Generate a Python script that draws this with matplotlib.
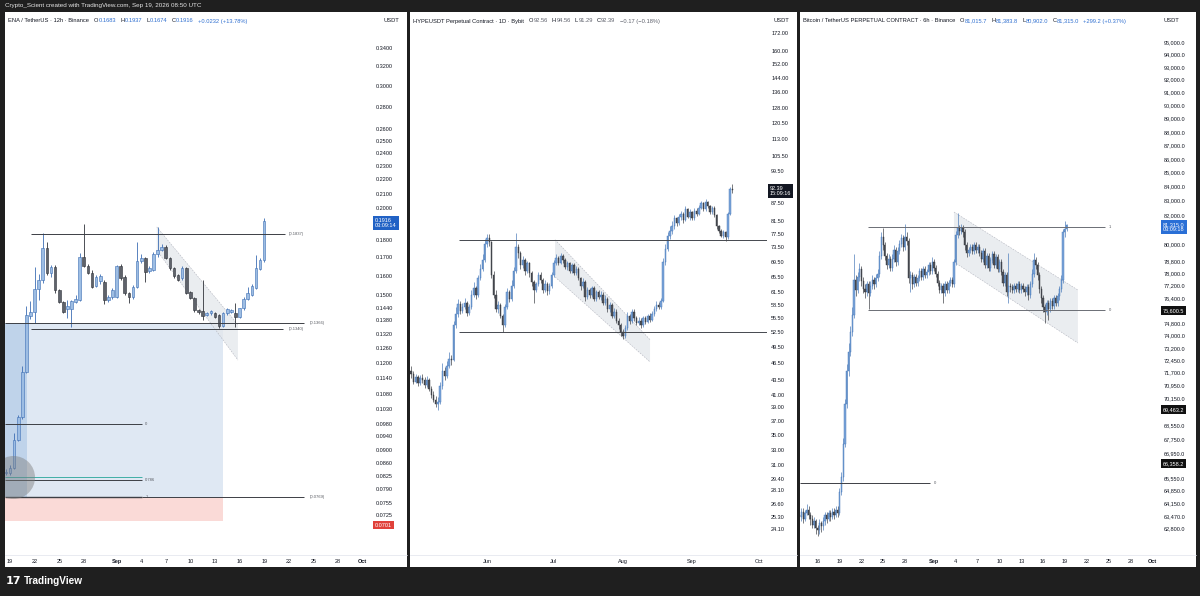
import numpy as np
import pandas as pd
import matplotlib
matplotlib.use("Agg")
import matplotlib.pyplot as plt
import matplotlib.dates as mdates
from matplotlib.patches import Rectangle, Polygon
from matplotlib.lines import Line2D
from matplotlib.ticker import NullLocator

plt.rcParams['font.family'] = ['Liberation Sans', 'DejaVu Sans']

W, H = 1200, 596
DARK = '#1f1f1f'
INK = '#131722'
HDR_BLUE = '#2f6fd0'
HDR_GREY = '#5d606b'
HDR_SIZE = 4.15

# ---------------- ENA / TetherUS, 12h candles from 2026-08-18 12:00 ----------------
ena_start = '2026-08-18 12:00'
ena_open = [0.0832, 0.0832, 0.0848, 0.0929, 0.1002, 0.1163, 0.1400, 0.1420, 0.1530, 0.1577,
            0.1751, 0.1612, 0.1648, 0.1526, 0.1468, 0.1432, 0.1432, 0.1468, 0.1476, 0.1700,
            0.1654, 0.1616, 0.1546, 0.1570, 0.1568, 0.1476, 0.1489, 0.1489, 0.1652, 0.1595,
            0.1509, 0.1489, 0.1543, 0.1681, 0.1695, 0.1627, 0.1630, 0.1719, 0.1742, 0.1761,
            0.1695, 0.1639, 0.1604, 0.1586, 0.1639, 0.1517, 0.1485, 0.1428, 0.1423, 0.1404,
            0.1412, 0.1416, 0.1404, 0.1355, 0.1412, 0.1420, 0.1412, 0.1397, 0.1436, 0.1483,
            0.1500, 0.1535, 0.1634, 0.1683]
ena_high = [0.0845, 0.0855, 0.0950, 0.1010, 0.1185, 0.1447, 0.1470, 0.1646, 0.1607, 0.1840,
            0.1790, 0.1660, 0.1660, 0.1530, 0.1470, 0.1476, 0.1476, 0.1500, 0.1723, 0.1899,
            0.1665, 0.1630, 0.1605, 0.1610, 0.1577, 0.1500, 0.1535, 0.1660, 0.1661, 0.1605,
            0.1515, 0.1550, 0.1790, 0.1720, 0.1704, 0.1650, 0.1730, 0.1882, 0.1775, 0.1770,
            0.1700, 0.1645, 0.1610, 0.1650, 0.1645, 0.1520, 0.1490, 0.1432, 0.1577, 0.1420,
            0.1430, 0.1420, 0.1410, 0.1420, 0.1440, 0.1435, 0.1462, 0.1440, 0.1490, 0.1543,
            0.1555, 0.1713, 0.1695, 0.1937]
ena_low = [0.0826, 0.0828, 0.0845, 0.0925, 0.0995, 0.1160, 0.1385, 0.1366, 0.1476, 0.1560,
           0.1604, 0.1595, 0.1509, 0.1460, 0.1412, 0.1389, 0.1350, 0.1460, 0.1470, 0.1645,
           0.1608, 0.1535, 0.1540, 0.1555, 0.1458, 0.1465, 0.1480, 0.1485, 0.1577, 0.1500,
           0.1462, 0.1480, 0.1535, 0.1670, 0.1568, 0.1615, 0.1625, 0.1704, 0.1735, 0.1690,
           0.1630, 0.1590, 0.1570, 0.1580, 0.1505, 0.1480, 0.1420, 0.1410, 0.1381, 0.1398,
           0.1405, 0.1390, 0.1345, 0.1348, 0.1405, 0.1415, 0.1351, 0.1390, 0.1430, 0.1476,
           0.1495, 0.1530, 0.1628, 0.1674]
ena_close = [0.0836, 0.0848, 0.0929, 0.1002, 0.1163, 0.1404, 0.1420, 0.1530, 0.1577, 0.1751,
             0.1612, 0.1648, 0.1526, 0.1468, 0.1420, 0.1448, 0.1472, 0.1483, 0.1700, 0.1654,
             0.1616, 0.1543, 0.1595, 0.1600, 0.1476, 0.1489, 0.1526, 0.1652, 0.1586, 0.1509,
             0.1489, 0.1543, 0.1681, 0.1695, 0.1621, 0.1639, 0.1719, 0.1742, 0.1761, 0.1695,
             0.1639, 0.1598, 0.1577, 0.1639, 0.1509, 0.1485, 0.1428, 0.1420, 0.1400, 0.1414,
             0.1423, 0.1397, 0.1355, 0.1412, 0.1431, 0.1428, 0.1394, 0.1436, 0.1483, 0.1509,
             0.1546, 0.1639, 0.1683, 0.1916]
ena_yticks = [0.34, 0.32, 0.30, 0.28, 0.26, 0.25, 0.24, 0.23, 0.22, 0.21, 0.20, 0.18, 0.17,
              0.16, 0.15, 0.144, 0.138, 0.132, 0.126, 0.12, 0.114, 0.108, 0.103, 0.098, 0.094,
              0.09, 0.086, 0.0825, 0.079, 0.0755, 0.0725]
ena_xdates = ['2026-08-19', '2026-08-22', '2026-08-25', '2026-08-28', '2026-09-01', '2026-09-04',
              '2026-09-07', '2026-09-10', '2026-09-13', '2026-09-16', '2026-09-19', '2026-09-22',
              '2026-09-25', '2026-09-28', '2026-10-01']
ena_xlabels = ['19', '22', '25', '28', 'Sep', '4', '7', '10', '13', '16', '19', '22', '25', '28', 'Oct']

# ---------------- HYPEUSDT, daily candles from 2026-04-28 ----------------
hype_start = '2026-04-28'
hype_close = [44.5, 43.2, 44.0, 43.0, 43.8, 43.5, 42.6, 43.4, 42.0, 41.0,
              40.2, 39.5, 39.8, 42.5, 45.0, 44.2, 46.0, 47.2, 47.0, 54.0,
              56.5, 58.8, 57.2, 58.0, 59.0, 56.8, 58.0, 61.0, 62.5, 60.8,
              65.0, 67.5, 70.0, 74.5, 76.2, 75.0, 66.0, 61.0, 57.5, 58.5,
              56.0, 54.0, 58.0, 61.5, 60.0, 63.0, 67.0, 73.5, 72.0, 68.5,
              70.0, 67.0, 69.0, 66.5, 64.0, 62.0, 63.5, 66.0, 64.5, 62.0,
              63.5, 61.8, 63.0, 66.0, 69.0, 70.5, 69.2, 71.0, 70.0, 68.0,
              69.0, 67.0, 68.5, 66.5, 67.5, 65.0, 63.0, 64.0, 60.5, 62.0,
              61.0, 62.5, 60.0, 61.5, 60.5, 61.0, 59.0, 60.0, 57.5, 58.5,
              56.0, 57.0, 55.0, 54.0, 52.5, 51.8, 53.5, 56.0, 55.0, 57.0,
              55.5, 54.5, 55.0, 54.0, 55.5, 54.8, 56.0, 55.2, 56.5, 57.5,
              58.5, 58.0, 59.5, 69.5, 73.0, 77.0, 78.5, 80.0, 82.5, 81.0,
              83.0, 84.0, 82.0, 85.5, 83.0, 84.5, 82.5, 85.0, 84.0, 86.0,
              87.5, 85.5, 88.0, 86.5, 84.5, 86.0, 83.5, 80.0, 78.5, 77.0,
              78.0, 76.5, 84.0, 92.56, 92.39]
hype_high = [46.0, 45.0, 44.6, 44.3, 44.4, 44.5, 44.0, 44.2, 43.8, 42.5,
             41.6, 40.8, 40.6, 43.2, 46.5, 45.8, 46.8, 48.5, 48.0, 55.0,
             58.0, 60.0, 59.5, 59.0, 60.2, 59.5, 58.8, 62.0, 64.0, 63.0,
             66.0, 68.8, 71.5, 76.0, 77.6, 77.4, 75.5, 67.0, 62.0, 59.5,
             59.0, 56.5, 58.8, 62.5, 62.2, 64.5, 68.0, 77.8, 74.5, 72.5,
             71.0, 70.5, 69.8, 69.5, 67.0, 64.5, 64.2, 66.8, 66.8, 65.0,
             64.5, 64.0, 63.8, 66.8, 70.0, 71.5, 71.0, 71.8, 71.5, 70.5,
             69.8, 69.5, 69.0, 69.0, 68.2, 68.0, 65.5, 65.2, 64.5, 62.8,
             62.5, 63.2, 63.0, 62.0, 62.0, 61.8, 61.5, 60.8, 60.5, 59.2,
             59.0, 57.8, 57.5, 55.5, 54.5, 53.2, 54.0, 57.0, 56.5, 57.5,
             57.5, 56.0, 55.8, 55.5, 56.0, 56.0, 56.5, 56.8, 57.2, 58.2,
             59.5, 59.2, 60.2, 70.5, 74.5, 78.0, 80.0, 81.5, 83.5, 83.0,
             84.0, 85.0, 84.5, 86.5, 86.0, 85.5, 85.0, 85.8, 86.0, 87.0,
             88.5, 88.0, 89.2, 88.5, 87.0, 86.8, 86.5, 84.0, 80.5, 79.0,
             78.8, 78.5, 84.5, 93.5, 94.56]
hype_low = [43.8, 42.8, 42.9, 42.5, 42.7, 43.0, 42.1, 42.3, 41.6, 40.5,
            39.8, 39.0, 38.6, 39.5, 42.0, 43.5, 43.8, 45.5, 46.2, 46.8,
            53.5, 55.8, 56.5, 56.8, 57.5, 56.0, 56.2, 57.6, 60.5, 60.0,
            60.5, 64.5, 67.0, 69.5, 73.5, 74.0, 65.0, 60.2, 57.0, 56.8,
            55.5, 52.6, 53.6, 57.5, 59.2, 59.5, 62.5, 66.5, 70.5, 67.5,
            67.8, 66.0, 66.5, 65.5, 63.0, 59.0, 61.5, 63.0, 63.8, 61.3,
            61.5, 61.0, 61.2, 62.5, 65.5, 68.5, 68.5, 68.8, 69.2, 67.5,
            67.2, 66.5, 66.5, 66.0, 66.0, 64.5, 62.2, 62.5, 59.5, 60.0,
            60.2, 60.5, 59.5, 59.5, 60.0, 59.8, 58.5, 58.5, 57.0, 57.0,
            55.5, 55.5, 54.5, 53.2, 51.8, 51.2, 51.3, 53.0, 54.2, 54.5,
            55.0, 54.0, 54.0, 53.5, 53.6, 54.2, 54.5, 54.8, 55.0, 56.0,
            57.2, 57.5, 57.6, 59.2, 68.5, 72.5, 76.0, 77.5, 79.0, 80.0,
            80.5, 82.0, 81.0, 81.5, 82.5, 82.0, 82.0, 82.0, 83.2, 83.5,
            85.5, 85.0, 85.0, 85.8, 84.0, 84.0, 83.0, 79.0, 77.8, 76.5,
            76.2, 75.5, 76.0, 83.5, 91.29]
hype_first_open = 45.0
hype_yticks = [172, 160, 152, 144, 136, 128, 120.5, 113, 105.5, 99.5, 87.5, 81.5, 77.5, 73.5,
               69.5, 65.5, 61.5, 58.5, 55.5, 52.5, 49.5, 46.5, 43.5, 41, 39, 37, 35, 33, 31,
               29.4, 28.1, 26.6, 25.3, 24.1]
hype_xdates = ['2026-06-01', '2026-07-01', '2026-08-01', '2026-09-01', '2026-10-01']
hype_xlabels = ['Jun', 'Jul', 'Aug', 'Sep', 'Oct']

# ---------------- BTC perpetual, 6h candles from 2026-08-13 12:00 ----------------
btc_start = '2026-08-13 12:00'
btc_close = [63400, 63700, 63300, 63600, 63800, 63500, 63300, 63000, 63200, 62800,
             62700, 63100, 62900, 63200, 63500, 63300, 63600, 63400, 63700, 63500,
             63800, 63600, 64800, 65600, 67500, 69800, 71800, 73000, 74200, 75300,
             77600, 76900, 77800, 78300, 77500, 77000, 76800, 77300, 76700, 77200,
             77600, 77300, 77700, 78000, 79200, 80500, 79900, 79200, 78600, 79000,
             78400, 79000, 79600, 78800, 79500, 80000, 80400, 79800, 80500, 80200,
             77700, 77900, 77300, 77800, 77400, 77700, 78200, 77800, 78300, 77900,
             78100, 78600, 78200, 78800, 78400, 78000, 77400, 76900, 77200, 76700,
             77300, 76900, 77400, 77600, 77300, 78800, 80600, 81100, 80900, 81100,
             80800, 79900, 79400, 79600, 79800, 79500, 79900, 79600, 79800, 79400,
             79000, 79500, 78600, 79200, 78400, 78900, 79300, 78600, 79100, 78300,
             78800, 78100, 77400, 77900, 76800, 77200, 77100, 76900, 77200, 77000,
             77300, 76900, 77200, 77000, 76800, 77100, 76600, 77300, 78000, 78900,
             78600, 77900, 77000, 76400, 75800, 75500, 76100, 75700, 76200, 75900,
             76400, 76100, 76500, 77000, 77600, 80800, 81015.7, 81315.0]
btc_high = [63800, 63900, 63900, 63800, 64100, 64000, 63700, 63500, 63400, 63300,
            63000, 63300, 63200, 63400, 63700, 63700, 63800, 63800, 63900, 63900,
            64000, 64000, 65000, 65900, 67800, 70100, 72200, 73500, 74600, 75800,
            79300, 77900, 78100, 78700, 78500, 77800, 77300, 77500, 77500, 77500,
            77900, 77800, 78000, 78300, 79500, 80800, 81100, 80100, 79400, 79300,
            79200, 79300, 79900, 79800, 79800, 80300, 80700, 80600, 81400, 80800,
            80400, 78200, 78100, 78000, 78000, 77900, 78400, 78400, 78500, 78500,
            78300, 78800, 78800, 79100, 79000, 78600, 78200, 77600, 77400, 77400,
            77500, 77500, 77600, 77800, 77800, 79000, 80900, 82100, 81300, 81400,
            81300, 81000, 80100, 79800, 80000, 80000, 80100, 80100, 80000, 80000,
            79600, 79700, 79700, 79400, 79400, 79100, 79500, 79500, 79300, 79300,
            79000, 79000, 78300, 78100, 78100, 79400, 77400, 77300, 77400, 77400,
            77500, 77500, 77400, 77400, 77200, 77300, 77300, 77500, 78300, 79400,
            79100, 78800, 78100, 77200, 76600, 76000, 76300, 76300, 76400, 76400,
            76600, 76600, 76700, 77200, 77900, 81000, 81600, 81383.8]
btc_low = [63100, 63200, 63100, 63200, 63500, 63300, 63000, 62800, 62800, 62500,
           62400, 62500, 62600, 62700, 63000, 63100, 63200, 63200, 63300, 63300,
           63400, 63400, 63500, 64600, 65400, 67300, 69600, 71500, 72700, 74000,
           75100, 76500, 76700, 77500, 77200, 76700, 76400, 76500, 75700, 76500,
           77000, 77000, 77100, 77500, 77800, 79000, 79600, 78900, 78300, 78400,
           78200, 78200, 78800, 78500, 78600, 79300, 79800, 79500, 79600, 79900,
           77400, 76800, 77000, 77100, 77200, 77200, 77500, 77600, 77600, 77700,
           77700, 77900, 78000, 78000, 78200, 77800, 77200, 76700, 76700, 76100,
           76500, 76700, 76700, 77200, 77100, 77100, 78600, 80400, 80600, 80700,
           80500, 79600, 79100, 79200, 79400, 79300, 79300, 79400, 79400, 79200,
           78800, 78800, 78400, 78400, 78200, 78200, 78700, 78400, 78400, 78100,
           78100, 77900, 77200, 77200, 76500, 76100, 76800, 76700, 76700, 76800,
           76800, 76700, 76700, 76800, 76500, 76600, 76300, 76400, 77100, 77800,
           78300, 77600, 76700, 76100, 75500, 74800, 75300, 75000, 75500, 75700,
           75700, 75900, 75900, 76300, 76800, 77400, 80500, 80902.0]
btc_first_open = 63500
btc_yticks = [95000, 94000, 93000, 92000, 91000, 90000, 89000, 88000, 87000, 86000, 85000,
              84000, 83000, 82000, 80000, 78800, 78000, 77200, 76400, 74800, 74000, 73200,
              72450, 71700, 70950, 70150, 68550, 67750, 66950, 65550, 64850, 64150, 63470,
              62800]
btc_xdates = ['2026-08-16', '2026-08-19', '2026-08-22', '2026-08-25', '2026-08-28', '2026-09-01',
              '2026-09-04', '2026-09-07', '2026-09-10', '2026-09-13', '2026-09-16', '2026-09-19',
              '2026-09-22', '2026-09-25', '2026-09-28', '2026-10-01']
btc_xlabels = ['16', '19', '22', '25', '28', 'Sep', '4', '7', '10', '13', '16', '19', '22', '25',
               '28', 'Oct']


def fx(x):
    return x / W


def fy(y):
    return 1 - y / H


def dn(s, days=0.0):
    return mdates.date2num(pd.Timestamp(s).to_pydatetime()) + days


def times(start, n, freq):
    return mdates.date2num(pd.date_range(start, periods=n, freq=freq).to_pydatetime())


fig = plt.figure(figsize=(12, 5.96), dpi=100)
fig.patch.set_facecolor(DARK)


def panel(x0, x1):
    fig.add_artist(Rectangle((fx(x0), fy(567)), (x1 - x0) / W, 555 / H, transform=fig.transFigure,
                             facecolor='white', edgecolor='none', zorder=-5))
    fig.add_artist(Line2D([fx(x0), fx(x1)], [fy(555), fy(555)], transform=fig.transFigure,
                          color='#e0e3eb', lw=0.5, zorder=-4))


def chart_axes(x0, x1):
    ax = fig.add_axes([fx(x0), fy(553), (x1 - x0) / W, (553 - 12) / H])
    ax.set_facecolor('white')
    for s in ax.spines.values():
        s.set_visible(False)
    return ax


def price_axis(ax, ticks, fmt, lim):
    ax.set_yscale('log')
    ax.set_ylim(*lim)
    ax.yaxis.tick_right()
    ax.set_yticks(ticks, [fmt.format(v) for v in ticks])
    ax.yaxis.set_minor_locator(NullLocator())
    ax.tick_params(axis='y', length=0, pad=3, labelsize=4.0, labelcolor=INK)


def time_axis(ax, dates, labels, lim, bold=()):
    ax.set_xlim(*lim)
    ax.set_xticks([dn(d) for d in dates], labels)
    ax.xaxis.set_minor_locator(NullLocator())
    ax.tick_params(axis='x', length=0, pad=4.2, labelsize=4.0, labelcolor=INK)
    for lab in ax.get_xticklabels():
        if lab.get_text() in bold:
            lab.set_fontweight('bold')


def candles(ax, t, o, h, l, c, width, up=('#9dbde3', '#3d6eb4'), dw=('#5f636b', '#30333a'),
            wick_lw=0.6, edge_lw=0.4):
    t, o, h, l, c = map(np.asarray, (t, o, h, l, c))
    rising = c >= o
    bot = np.minimum(o, c)
    top = np.maximum(o, c)
    for m, (fill, edge) in ((rising, up), (~rising, dw)):
        ax.vlines(t[m], l[m], h[m], color=edge, lw=wick_lw, zorder=3)
        ax.bar(t[m], top[m] - bot[m], width, bottom=bot[m], color=fill, edgecolor=edge,
               linewidth=edge_lw, zorder=4)


def channel(ax, t0, t1, up0, up1, lo0, lo1):
    ax.add_patch(Polygon([[t0, up0], [t1, up1], [t1, lo1], [t0, lo0]], closed=True,
                         facecolor='#e4e7ec', edgecolor='none', alpha=0.75, zorder=2))
    for a, b in ((up0, up1), (lo0, lo1)):
        ax.plot([t0, t1], [a, b], color='#b2b5be', lw=0.4, ls=(0, (3, 2)), zorder=2)


def axis_box(ax, price, text, fc, dy=0.0):
    ax.annotate(text, xy=(1, price), xycoords=ax.get_yaxis_transform(), xytext=(2.2, dy),
                textcoords='offset points', ha='left', va='center', fontsize=4.0, color='white',
                linespacing=1.0, annotation_clip=False,
                bbox=dict(boxstyle='square,pad=0.35', fc=fc, ec='none'), zorder=10)


def header(ax, x, y, parts):
    t = ax.annotate(parts[0][0], xy=(fx(x), fy(y)), xycoords='figure fraction', fontsize=HDR_SIZE,
                    color=parts[0][1], va='center', ha='left', annotation_clip=False)
    for s, col, gap in parts[1:]:
        t = ax.annotate(s, xy=(1, 0.5), xycoords=t, xytext=(gap, 0), textcoords='offset points',
                        fontsize=HDR_SIZE, color=col, va='center', ha='left', annotation_clip=False)


def level(ax, price, d0, d1, label, dl, color='#3c3f45', lw=0.7):
    ax.hlines(price, d0, d1, color=color, lw=lw, zorder=5)
    if label:
        ax.text(dl, price, label, fontsize=3.0, color='#55585f', va='center', ha='left', zorder=5)


# ================= panel 1: ENA =================
panel(5, 407)
ax1 = chart_axes(5, 372)
price_axis(ax1, ena_yticks, '{:.4f}', (0.0639, 0.383))
time_axis(ax1, ena_xdates, ena_xlabels, (dn('2026-08-19', -0.61), dn('2026-08-19', 44.15)),
          bold=('Sep', 'Oct'))
E0 = '2026-08-19'
# long-position tool
ax1.add_patch(Rectangle((dn(E0, -0.61), 0.0769), dn(E0, 25.98) - dn(E0, -0.61), 0.1366 - 0.0769,
                        facecolor='#dfe8f3', edgecolor='none', zorder=1))
ax1.add_patch(Rectangle((dn(E0, -0.61), 0.0769), dn(E0, 2.07) - dn(E0, -0.61), 0.1366 - 0.0769,
                        facecolor='#bfd3ea', edgecolor='none', zorder=1))
ax1.add_patch(Rectangle((dn(E0, -0.61), 0.0710), dn(E0, 25.98) - dn(E0, -0.61), 0.0769 - 0.0710,
                        facecolor='#fadad7', edgecolor='none', zorder=1))
channel(ax1, dn(E0, 17.9), dn(E0, 27.8), 0.188, 0.136, 0.174, 0.121)
candles(ax1, times(ena_start, len(ena_close), '12h'), ena_open, ena_high, ena_low, ena_close, 0.32)
level(ax1, 0.1837, dn(E0, 2.56), dn(E0, 33.54), '(0.1837)', dn(E0, 34.0))
level(ax1, 0.1366, dn(E0, -0.61), dn(E0, 35.85), '(0.1366)', dn(E0, 36.5))
level(ax1, 0.1342, dn(E0, 2.56), dn(E0, 33.3), '(0.1340)', dn(E0, 34.0))
level(ax1, 0.0979, dn(E0, -0.61), dn(E0, 16.1), '0', dn(E0, 16.5))
level(ax1, 0.0822, dn(E0, -0.61), dn(E0, 16.1), None, 0, color='#26a69a', lw=0.6)
level(ax1, 0.0814, dn(E0, -0.61), dn(E0, 16.1), '0.786', dn(E0, 16.5))
level(ax1, 0.0769, dn(E0, -0.61), dn(E0, 16.1), '1', dn(E0, 16.5), lw=1.0)
level(ax1, 0.0769, dn(E0, 16.1), dn(E0, 35.85), '(0.0769)', dn(E0, 36.5))
ax1.plot(dn(E0, 0.37), 0.0822, 'o', ms=31, mfc='#7d7d7d', mec='none', alpha=0.45, zorder=7)
axis_box(ax1, 0.1916, '0.1916\n03:09:14', '#2162c5', dy=-1.5)
axis_box(ax1, 0.0701, '0.0701', '#e0413a')
header(ax1, 8, 21, [('ENA / TetherUS · 12h · Binance', INK, 0), ('O', INK, 3.5),
                    ('0.1683', HDR_BLUE, 0.2), ('H', INK, 3), ('0.1937', HDR_BLUE, 0.2),
                    ('L', INK, 3), ('0.1674', HDR_BLUE, 0.2), ('C', INK, 3),
                    ('0.1916', HDR_BLUE, 0.2), ('+0.0232 (+13.78%)', HDR_BLUE, 3)])
fig.text(fx(383), fy(21), 'USDT', fontsize=HDR_SIZE, color=INK, va='center', ha='left')

# ================= panel 2: HYPE =================
panel(410, 797)
ax2 = chart_axes(410, 767)
price_axis(ax2, hype_yticks, '{:.2f}', (21.9, 186.9))
H0 = '2026-06-01'
time_axis(ax2, hype_xdates, hype_xlabels, (dn(H0, -34.53), dn(H0, 125.56)))
channel(ax2, dn(H0, 30.5), dn(H0, 73.1), 75.8, 51.0, 65.4, 46.7)
hype_open = [hype_first_open] + hype_close[:-1]
candles(ax2, times(hype_start, len(hype_close), 'D'), hype_open, hype_high, hype_low, hype_close,
        0.62, up=('#7ea7da', '#3f72b5'), dw=('#50535b', '#2f3238'), wick_lw=0.45, edge_lw=0.3)
level(ax2, 75.8, dn(H0, -12.6), dn(H0, 125.56), None, 0, color='#45484e', lw=0.7)
level(ax2, 52.6, dn(H0, -12.6), dn(H0, 125.56), None, 0, color='#45484e', lw=0.7)
axis_box(ax2, 92.39, '92.39\n15:09:16', '#131722', dy=-1.0)
header(ax2, 413, 21, [('HYPEUSDT Perpetual Contract · 1D · Bybit', INK, 0), ('O', INK, 3.5),
                      ('92.56', HDR_GREY, 0.2), ('H', INK, 3), ('94.56', HDR_GREY, 0.2),
                      ('L', INK, 3), ('91.29', HDR_GREY, 0.2), ('C', INK, 3),
                      ('92.39', HDR_GREY, 0.2), ('\u22120.17 (\u22120.18%)', HDR_GREY, 3)])
fig.text(fx(773), fy(21), 'USDT', fontsize=HDR_SIZE, color=INK, va='center', ha='left')

# ================= panel 3: BTC =================
panel(800, 1196)
ax3 = chart_axes(800, 1160)
price_axis(ax3, btc_yticks, '{:,.1f}', (61496, 97457))
B0 = '2026-09-01'
time_axis(ax3, btc_xdates, btc_xlabels, (dn(B0, -18.43), dn(B0, 31.09)), bold=('Sep', 'Oct'))
channel(ax3, dn(B0, 2.75), dn(B0, 19.8), 82200, 76920, 78780, 73530)
btc_open = [btc_first_open] + btc_close[:-1]
candles(ax3, times(btc_start, len(btc_close), '6h'), btc_open, btc_high, btc_low, btc_close,
        0.16, up=('#7ea7da', '#3f72b5'), dw=('#50535b', '#2f3238'), wick_lw=0.45, edge_lw=0.3)
level(ax3, 81160, dn(B0, -9.08), dn(B0, 23.5), '1', dn(B0, 24.1), color='#6b6e75', lw=0.7)
level(ax3, 75600.5, dn(B0, -9.08), dn(B0, 23.5), '0', dn(B0, 24.1), color='#6b6e75', lw=0.7)
level(ax3, 65270, dn(B0, -18.43), dn(B0, -0.55), '0', dn(B0, 0.0), color='#3c3f45', lw=0.7)
axis_box(ax3, 81315.0, '81,315.0\n03:09:18', '#2a6fd6', dy=-1.5)
axis_box(ax3, 75600.5, '75,600.5', '#111111')
axis_box(ax3, 69463.2, '69,463.2', '#111111')
axis_box(ax3, 66358.2, '66,358.2', '#111111')
header(ax3, 803, 21, [('Bitcoin / TetherUS PERPETUAL CONTRACT · 6h · Binance', INK, 0),
                      ('O', INK, 3.5), ('81,015.7', HDR_BLUE, 0.2), ('H', INK, 3),
                      ('81,383.8', HDR_BLUE, 0.2), ('L', INK, 3), ('80,902.0', HDR_BLUE, 0.2),
                      ('C', INK, 3), ('81,315.0', HDR_BLUE, 0.2), ('+299.2 (+0.37%)', HDR_BLUE, 3)])
fig.text(fx(1163), fy(21), 'USDT', fontsize=HDR_SIZE, color=INK, va='center', ha='left')

# ================= frame texts =================
fig.text(fx(5), fy(5.5), 'Crypto_Scient created with TradingView.com, Sep 19, 2026 08:50 UTC',
         fontsize=4.5, color='#e6e6e6', va='center', ha='left')
fig.text(fx(6), fy(581.5), '17', fontsize=8, fontweight='bold', color='white', va='center',
         ha='left', family='DejaVu Sans')
fig.text(fx(24), fy(581.5), 'TradingView', fontsize=7.2, fontweight='bold', color='white',
         va='center', ha='left')

fig.savefig('out.png', dpi=100, facecolor=DARK)
